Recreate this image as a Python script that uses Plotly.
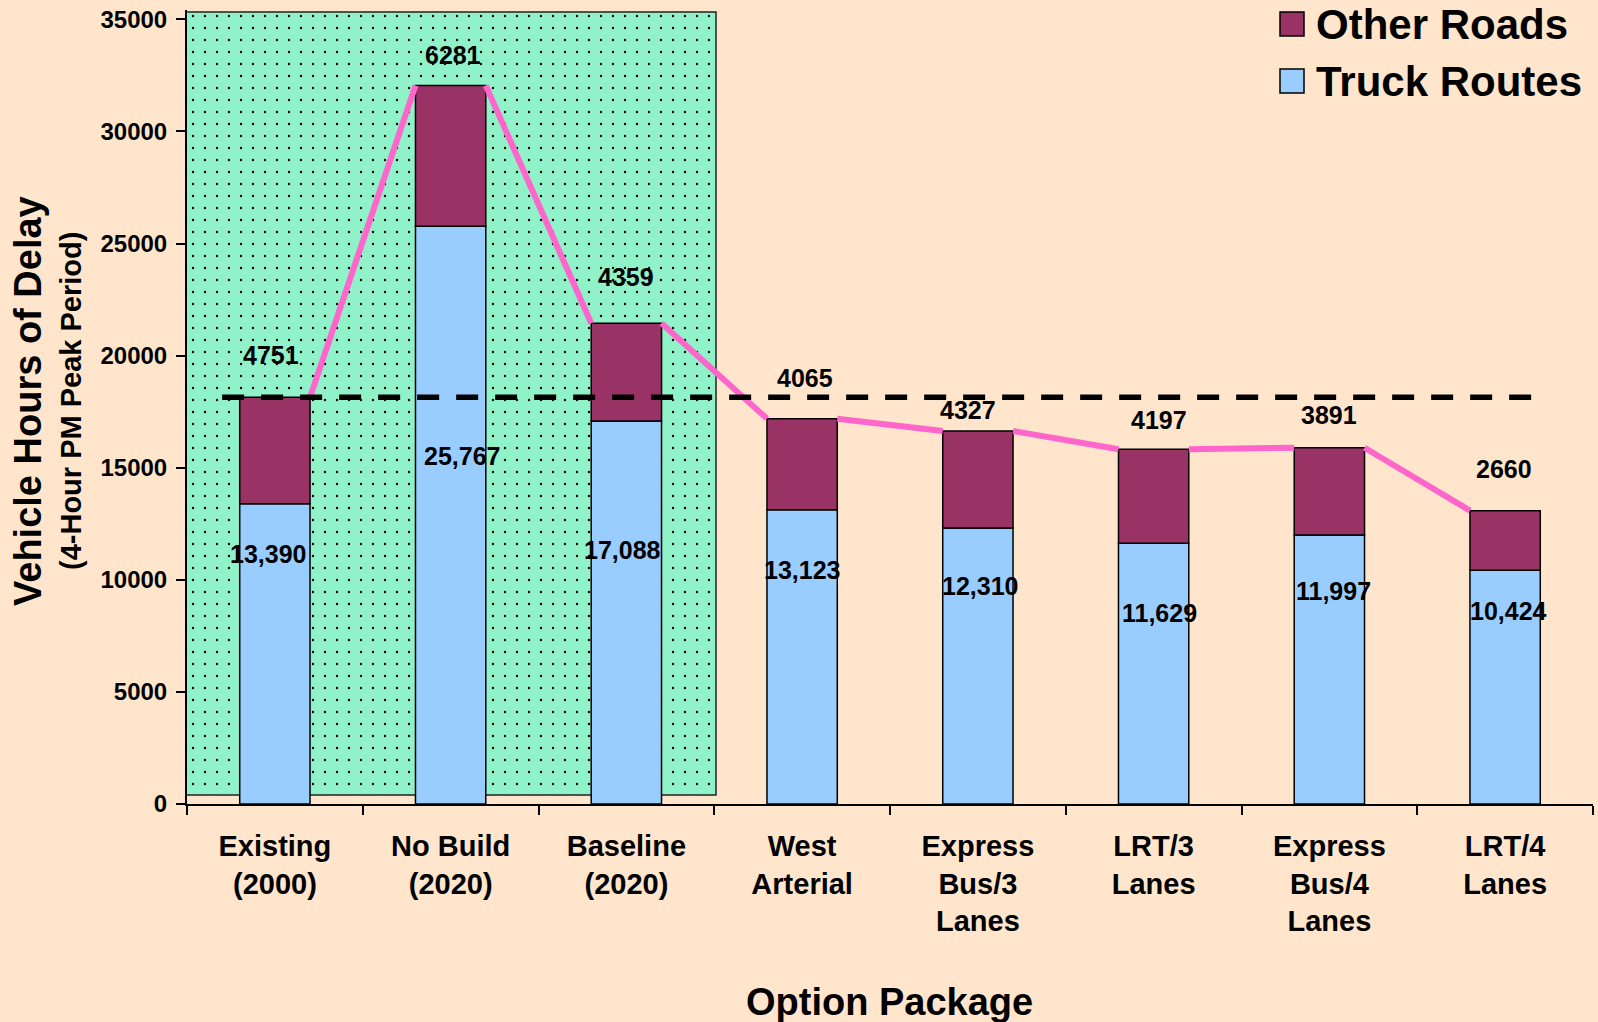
import plotly.graph_objects as go

# ---- data -----------------------------------------------------------------
categories = [
    "Existing<br>(2000)",
    "No Build<br>(2020)",
    "Baseline<br>(2020)",
    "West<br>Arterial",
    "Express<br>Bus/3<br>Lanes",
    "LRT/3<br>Lanes",
    "Express<br>Bus/4<br>Lanes",
    "LRT/4<br>Lanes",
]
truck_routes = [13390, 25767, 17088, 13123, 12310, 11629, 11997, 10424]
other_roads = [4751, 6281, 4359, 4065, 4327, 4197, 3891, 2660]
y_tick_values = [0, 5000, 10000, 15000, 20000, 25000, 30000, 35000]

# ---- styling --------------------------------------------------------------
FONT = "Liberation Sans, Arial, Helvetica, sans-serif"
BG = "#FFE5CC"
GREEN = "#90F2C8"
BLUE = "#99CCFF"
MAROON = "#993366"
PINK = "#FF66CC"
BAR_W = 0.4

# plot-area geometry in pixels (used to place the free-standing text)
W, H = 1598, 1022
M_L, M_R, M_T, M_B = 187, 5, 10, 218
PLOT_W = W - M_L - M_R
PLOT_H = H - M_T - M_B
Y_MAX = 35415

# shaded block behind the three reference scenarios (value units)
HL_BOTTOM, HL_TOP = 400, 35330


def px_x(px):
    return (px - M_L) / PLOT_W


def px_y(py):
    return (H - M_B - py) / PLOT_H


n = len(categories)
xs = list(range(n))
totals = [t + o for t, o in zip(truck_routes, other_roads)]

fig = go.Figure()

# dotted green block marking the existing / future base cases
fig.add_trace(go.Bar(
    x=[(xs[0] + xs[2]) / 2], y=[HL_TOP - HL_BOTTOM], base=[HL_BOTTOM], width=[3.02],
    marker=dict(
        color=GREEN,
        pattern=dict(shape=".", fgcolor="black", bgcolor=GREEN, size=12,
                     solidity=0.03, fillmode="replace"),
        line=dict(color="#222222", width=1.5),
    ),
    hoverinfo="skip", showlegend=False,
))

fig.add_trace(go.Bar(
    name="Truck Routes", x=xs, y=truck_routes, base=[0] * n, width=BAR_W,
    marker=dict(color=BLUE, line=dict(color="black", width=1.5)),
    showlegend=False,
))
fig.add_trace(go.Bar(
    name="Other Roads", x=xs, y=other_roads, base=truck_routes, width=BAR_W,
    marker=dict(color=MAROON, line=dict(color="black", width=1.5)),
    showlegend=False,
))

# pink connector between neighbouring bar tops
line_x, line_y = [], []
for i in range(n - 1):
    line_x += [xs[i] + BAR_W / 2, xs[i + 1] - BAR_W / 2, None]
    line_y += [totals[i], totals[i + 1], None]
fig.add_trace(go.Scatter(
    x=line_x, y=line_y, mode="lines",
    line=dict(color=PINK, width=6), hoverinfo="skip", showlegend=False,
))

annotations = []
label_font = dict(family=FONT, size=25, color="black", weight="bold")

# Other Roads values above each bar
other_dy = [42, 30, 46, 41, 21, 29, 33, 42]
other_dx = [-4, 2, 0, 3, -10, 5, 0, -1]
for i in range(n):
    annotations.append(dict(
        x=xs[i], y=totals[i], text=f"{other_roads[i]}", showarrow=False,
        xanchor="center", yanchor="middle", yshift=other_dy[i], xshift=other_dx[i],
        font=label_font,
    ))

# Truck Routes values inside the blue segments
truck_dy = [50, 230, 129, 60, 58, 70, 56, 41]
truck_dx = [-7, 11, -4, 0, 2, 6, 4, 3]
for i in range(n):
    annotations.append(dict(
        x=xs[i], y=truck_routes[i], text=f"{truck_routes[i]:,}", showarrow=False,
        xanchor="center", yanchor="middle", yshift=-truck_dy[i], xshift=truck_dx[i],
        font=label_font,
    ))

# axis titles
annotations.append(dict(
    xref="paper", yref="paper", x=px_x(28), y=px_y(401),
    text="Vehicle Hours of Delay", textangle=-90, showarrow=False,
    xanchor="center", yanchor="middle",
    font=dict(family=FONT, size=38, color="black", weight="bold"),
))
annotations.append(dict(
    xref="paper", yref="paper", x=px_x(71), y=px_y(401),
    text="(4-Hour PM Peak Period)", textangle=-90, showarrow=False,
    xanchor="center", yanchor="middle",
    font=dict(family=FONT, size=29, color="black", weight="bold"),
))
annotations.append(dict(
    xref="paper", yref="paper", x=px_x(889), y=px_y(1002),
    text="Option Package", showarrow=False,
    xanchor="center", yanchor="middle",
    font=dict(family=FONT, size=38, color="black", weight="bold"),
))

# legend (large swatches)
legend_items = [("Other Roads", MAROON, 24), ("Truck Routes", BLUE, 81)]
shapes = []
for label, color, cy in legend_items:
    shapes.append(dict(
        type="rect", xref="paper", yref="paper",
        x0=px_x(1280), x1=px_x(1304), y0=px_y(cy - 12), y1=px_y(cy + 12),
        fillcolor=color, line=dict(color="black", width=1.5), layer="above",
    ))
    annotations.append(dict(
        xref="paper", yref="paper", x=px_x(1314), y=px_y(cy),
        text=label, showarrow=False, xanchor="left", yanchor="middle",
        font=dict(family=FONT, size=42, color="black", weight="bold"),
    ))

# dashed reference level at today's total delay
shapes.append(dict(
    type="line", xref="x", yref="y", x0=-0.3, x1=7.15, y0=totals[0], y1=totals[0],
    line=dict(color="black", width=5.5, dash="22px,17px"), layer="above",
))

fig.update_layout(
    width=W, height=H, autosize=False,
    margin=dict(l=M_L, r=M_R, t=M_T, b=M_B),
    paper_bgcolor=BG, plot_bgcolor=BG,
    barmode="overlay",
    font=dict(family=FONT, color="black"),
    annotations=annotations, shapes=shapes,
    showlegend=False,
)
fig.update_xaxes(
    range=[-0.5, n - 0.5], tickmode="array", tickvals=xs, ticktext=categories,
    ticks="", ticklabelstandoff=15, showgrid=False, zeroline=False,
    showline=True, linecolor="black", linewidth=2,
    tickfont=dict(family=FONT, size=29, color="black", weight="bold"),
    minor=dict(tickmode="array", tickvals=[i - 0.5 for i in range(n + 1)],
               ticks="outside", ticklen=9, tickwidth=2, tickcolor="black"),
)
fig.update_yaxes(
    range=[0, Y_MAX], tickmode="array", tickvals=y_tick_values,
    ticktext=[str(v) for v in y_tick_values],
    ticks="outside", ticklen=9, tickwidth=2, tickcolor="black",
    ticklabelstandoff=4, showgrid=False, zeroline=False,
    showline=True, linecolor="black", linewidth=2,
    tickfont=dict(family=FONT, size=24, color="black", weight="bold"),
)

fig.write_html("out.html")
